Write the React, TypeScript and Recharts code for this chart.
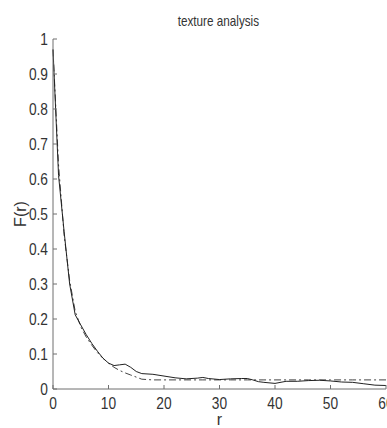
import { LineChart, Line, XAxis, YAxis } from "recharts";

const rValues = [
  0, 1, 2, 3, 4, 5, 6, 7, 8, 9, 10, 11, 12, 13, 14, 15, 16, 18, 20, 22, 24, 26, 27, 28, 30,
  32, 34, 35, 36, 37, 38, 40, 42, 44, 46, 48, 50, 52, 54, 56, 58, 60,
];
const measured = [
  0.97, 0.61, 0.45, 0.3, 0.212, 0.183, 0.155, 0.13, 0.108, 0.088, 0.074, 0.067, 0.069, 0.071,
  0.062, 0.05, 0.044, 0.042, 0.037, 0.032, 0.029, 0.031, 0.033, 0.03, 0.027, 0.029, 0.03, 0.03,
  0.026, 0.021, 0.019, 0.016, 0.022, 0.022, 0.024, 0.025, 0.023, 0.02, 0.019, 0.015, 0.011, 0.01,
];
const fitted = [
  0.97, 0.64, 0.44, 0.31, 0.222, 0.178, 0.148, 0.125, 0.104, 0.088, 0.074, 0.062, 0.053, 0.046,
  0.04, 0.034, 0.028, 0.026, 0.026, 0.026, 0.026, 0.026, 0.026, 0.026, 0.026, 0.026, 0.026,
  0.026, 0.026, 0.026, 0.026, 0.026, 0.026, 0.026, 0.026, 0.026, 0.026, 0.026, 0.026, 0.026,
  0.026, 0.026,
];
const xTicks = [0, 10, 20, 30, 40, 50, 60];
const yTicks = [0, 0.1, 0.2, 0.3, 0.4, 0.5, 0.6, 0.7, 0.8, 0.9, 1];

const data = rValues.map((r, i) => ({ r, measured: measured[i], fitted: fitted[i] }));

const font = "Arial, 'Liberation Sans', sans-serif";
const frame = "#6f6f6f";
const ink = "#333";
const blank = () => "";

// matlab-ish condensed labels: squeeze the text horizontally round its anchor
function NarrowTick(props: any) {
  const { x, y, payload, textAnchor, orientation } = props;
  const dy = orientation === "bottom" ? 12 : 5.5;
  return (
    <g transform={`translate(${x},${y}) scale(0.86,1)`}>
      <text x={0} y={0} dy={dy} textAnchor={textAnchor} fill={ink} fontSize={16} fontFamily={font}>
        {payload.value}
      </text>
    </g>
  );
}

export default function App() {
  return (
    <div style={{ position: "absolute", left: 0, top: 0, width: 387, height: 428, background: "#fff" }}>
      <div
        style={{
          position: "absolute",
          left: 0,
          width: 437,
          top: 12,
          textAlign: "center",
          fontFamily: font,
          fontSize: 15,
          color: ink,
          transform: "scaleX(0.78)",
          transformOrigin: "218px 0",
        }}
      >
        texture analysis
      </div>
      <LineChart width={387} height={428} data={data} margin={{ top: 39, right: 1, bottom: 0, left: 0 }}>
        <XAxis
          dataKey="r"
          type="number"
          domain={[0, 60]}
          ticks={xTicks}
          height={39}
          tickSize={-4}
          tickMargin={12}
          stroke={frame}
          tick={<NarrowTick />}
          interval={0}
          label={{ value: "r", position: "insideBottom", offset: 3, fill: ink, fontSize: 16, fontFamily: font }}
        />
        <XAxis
          xAxisId="top"
          dataKey="r"
          type="number"
          orientation="top"
          domain={[0, 60]}
          ticks={xTicks}
          height={0}
          tickSize={-4}
          stroke={frame}
          tickFormatter={blank}
        />
        <YAxis
          type="number"
          domain={[0, 1]}
          ticks={yTicks}
          width={53}
          tickSize={-4}
          tickMargin={9}
          stroke={frame}
          tick={<NarrowTick />}
          interval={0}
          label={{ value: "F(r)", angle: -90, position: "center", dx: -6, fill: ink, fontSize: 16, fontFamily: font }}
        />
        <YAxis
          yAxisId="right"
          type="number"
          orientation="right"
          domain={[0, 1]}
          ticks={yTicks}
          width={0}
          tickSize={-4}
          stroke={frame}
          tickFormatter={blank}
        />
        <Line
          dataKey="fitted"
          stroke="#444"
          strokeWidth={1}
          strokeDasharray="7 3 2 3"
          dot={false}
          isAnimationActive={false}
        />
        <Line dataKey="measured" stroke="#222" strokeWidth={1} dot={false} isAnimationActive={false} />
      </LineChart>
    </div>
  );
}
